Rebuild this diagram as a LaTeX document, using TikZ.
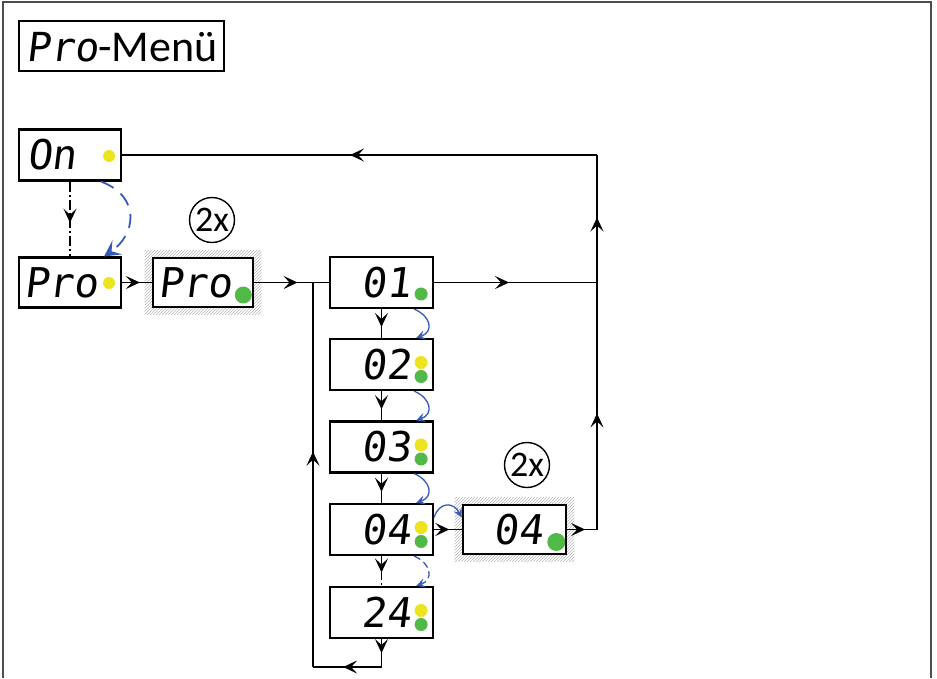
\documentclass[tikz,border=0pt]{standalone}
\usepackage{fontspec}
\setmainfont{Carlito}
\newfontfamily\segfont[FakeSlant=0.12]{DejaVu Sans Mono}
\usetikzlibrary{arrows.meta,decorations.markings,patterns,calc,backgrounds}
\definecolor{dotyellow}{RGB}{236,228,30}
\definecolor{dotgreen}{RGB}{80,185,72}
\definecolor{arcblue}{RGB}{55,90,185}
\begin{document}
\begin{tikzpicture}[x=1pt,y=-1pt,
  box/.style={draw, fill=white, line width=2.2pt, minimum width=103pt, minimum height=51pt, inner sep=0pt},
  segtext/.style={inner sep=0pt, font=\segfont\fontsize{41}{41}\selectfont},
  conn/.style={line width=1.6pt, black},
  midarr/.style={postaction={decorate}, decoration={markings, mark=at position #1 with {\arrow{Stealth[length=14pt,width=13pt,inset=6pt]}}}},
  bluearc/.style={line width=1.3pt, arcblue, -{Stealth[length=9pt,width=9pt,inset=3.5pt]}},
  bigbluearc/.style={line width=1.8pt, arcblue, -{Stealth[length=16pt,width=17pt,inset=7pt]}, dash pattern=on 14pt off 9pt},
  times/.style={draw, circle, line width=1.4pt, minimum size=45pt, inner sep=0pt, font=\fontsize{36}{36}\selectfont},
  ydot/.style={fill=dotyellow},
  gdot/.style={fill=dotgreen},
  hatch/.style={pattern=north east lines, pattern color=gray!55}
]
\useasboundingbox (0,0) rectangle (937,678);

% title
\node[draw, line width=1.5pt, minimum width=205pt, minimum height=50pt, inner sep=0pt] (title) at (121.5,46) {};
\node[anchor=base west, inner sep=0pt] (titletext) at (26,61) {{\segfont\fontsize{40}{40}\selectfont Pro}{\fontsize{44}{44}\selectfont -Menü}};

% boxes
\node[box, minimum width=102pt] (on) at (70,155) {};
\node[box, minimum width=102pt, minimum height=50pt] (pro1) at (70,282.5) {};
\node[box, minimum width=100pt, minimum height=49pt, line width=2.6pt] (pro2) at (203,282.5) {};
\node[box] (b01) at (381.5,282.5) {};
\node[box] (b02) at (381.5,364.5) {};
\node[box] (b03) at (381.5,447) {};
\node[box] (b04) at (381.5,529.5) {};
\node[box] (b24) at (381.5,612.5) {};
\node[box, minimum height=49pt, line width=2.6pt] (b04b) at (514.5,529.5) {};

\begin{scope}[on background layer]
  \fill[white] (0,0) rectangle (937,678);
  \fill[hatch] ($(pro2.north west)+(-7,-6)$) rectangle ($(pro2.south east)+(7,6)$);
  \fill[hatch] ($(b04b.north west)+(-7,-6)$) rectangle ($(b04b.south east)+(7,6)$);
  \draw[line width=1.5pt, black!70] (3,678) -- (3,2) -- (931,2) -- (931,678);
\end{scope}

% texts
\node[segtext, anchor=west] (ton) at (27,155) {On};
\node[segtext, anchor=west] (tpro1) at (24,282.5) {Pro};
\node[segtext, anchor=west] (tpro2) at (158,282.5) {Pro};
\node[segtext, anchor=east] (t01) at (411,282.5) {01};
\node[segtext, anchor=east] (t02) at (411,364.5) {02};
\node[segtext, anchor=east] (t03) at (411,447) {03};
\node[segtext, anchor=east] (t04) at (411,529.5) {04};
\node[segtext, anchor=east] (t24) at (411,612.5) {24};
\node[segtext, anchor=east] (t04b) at (543,529.5) {04};

% dots
\fill[ydot] ($(on.east)+(-13,1)$) circle[radius=6];
\fill[ydot] ($(pro1.east)+(-13,0.5)$) circle[radius=6];
\fill[gdot] ($(pro2.east)+(-11,12.5)$) circle[radius=8.5];
\fill[gdot] ($(b01.east)+(-13,11.5)$) circle[radius=6.5];
\foreach \b in {b02,b03,b04,b24}{
  \fill[ydot] ($(\b.east)+(-13,-2)$) circle[radius=6.5];
  \fill[gdot] ($(\b.east)+(-13,12)$) circle[radius=6.5];
}
\fill[gdot] ($(b04b.east)+(-11,12.5)$) circle[radius=9];

% 2x circles
\node[times] (x1) at (212,220) {2x};
\node[times] (x2) at (527,465) {2x};

% coordinates
\coordinate (c1) at (597,529.5);
\coordinate (c2) at (597,282.5);
\coordinate (c3) at (597,155);
\coordinate (d1) at (381.5,667);
\coordinate (d2) at (313,667);
\coordinate (d3) at (313,282.5);

% connectors
\draw[conn, midarr=0.55, dash pattern=on 10pt off 3pt on 2pt off 3pt] (on) -- (pro1);
\draw[conn, midarr=0.6] (pro1) -- (pro2);
\draw[conn, midarr=0.58] (pro2) -- (b01);
\draw[conn, midarr=0.62] (b01) -- (b02);
\draw[conn, midarr=0.62] (b02) -- (b03);
\draw[conn, midarr=0.62] (b03) -- (b04);
\draw[conn, midarr=0.55, dash pattern=on 8pt off 3pt on 2pt off 3pt] (b04) -- (b24);
\draw[conn, midarr=0.55] (b04) -- (b04b);
\draw[conn, midarr=0.6] (b04b) -- (c1);
\draw[conn, midarr=0.47] (c1) -- (c2);
\draw[conn, midarr=0.51] (c2) -- (c3);
\draw[conn, midarr=0.52] (c3) -- (on);
\draw[conn, midarr=0.46] (b01) -- (c2);
\draw[conn, midarr=0.5] (b24) -- (d1);
\draw[conn, midarr=0.56] (d1) -- (d2);
\draw[conn, midarr=0.56] (d2) -- (d3);

% blue arcs
\draw[bigbluearc] ($(on.south east)+(-21,0)$) .. controls +(40,15) and +(32,-22) .. ($(pro1.north east)+(-18,0)$);
\draw[bluearc] ($(b01.south east)+(-20,0)$) .. controls +(17,7) and +(18,-6) .. ($(b02.north east)+(-18,0)$);
\draw[bluearc] ($(b02.south east)+(-20,0)$) .. controls +(17,7) and +(18,-6) .. ($(b03.north east)+(-18,0)$);
\draw[bluearc] ($(b03.south east)+(-20,0)$) .. controls +(17,7) and +(18,-6) .. ($(b04.north east)+(-18,0)$);
\draw[bluearc, dash pattern=on 7pt off 4pt] ($(b04.south east)+(-20,0)$) .. controls +(17,7) and +(18,-6) .. ($(b24.north east)+(-18,0)$);
\draw[bluearc] ($(b04.east)+(0,-12)$) .. controls +(5,-16) and +(-8,-16) .. ($(b04b.west)+(0,-12)$);
\end{tikzpicture}
\end{document}
